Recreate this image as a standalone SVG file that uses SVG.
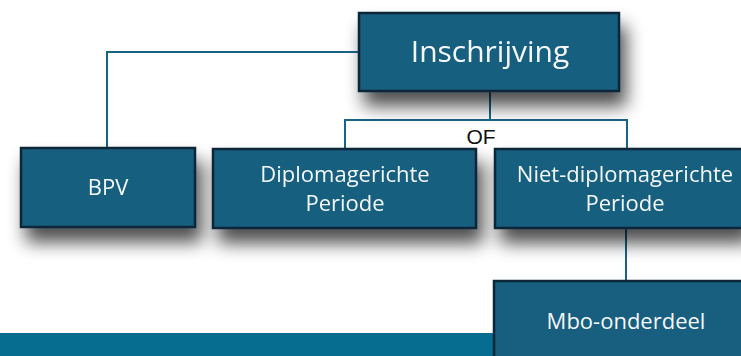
<svg xmlns="http://www.w3.org/2000/svg" width="741" height="356" viewBox="0 0 741 356">
  <defs>
    <filter id="sh" x="-20%" y="-30%" width="150%" height="190%">
      <feGaussianBlur in="SourceAlpha" stdDeviation="9"/>
      <feOffset dx="6" dy="14" result="b"/>
      <feComponentTransfer><feFuncA type="linear" slope="0.7"/></feComponentTransfer>
      <feMerge><feMergeNode/><feMergeNode in="SourceGraphic"/></feMerge>
    </filter>
    <style>
      .box{fill:#175e7f;stroke:#0b2738;stroke-width:2.5}
      .t{fill:#f4f7f9;font-family:"Open Sans","Noto Sans",sans-serif;font-size:22px;text-anchor:middle}
      .c{fill:none;stroke:#1b6384;stroke-width:2}
    </style>
  </defs>
  <rect width="741" height="356" fill="#ffffff"/>
  <rect x="0" y="333" width="741" height="23" fill="#066c90"/>
  <g id="connectors">
    <polyline class="c" points="359,52 107,52 107,148"/>
    <polyline class="c" points="490,91 490,120"/>
    <polyline class="c" points="345,149 345,120 627,120 627,149"/>
    <polyline class="c" points="626,228 626,281"/>
  </g>
  <g id="n-of">
    <text x="481" y="144" font-family="'Liberation Sans',Arial,sans-serif" font-size="21" fill="#111" text-anchor="middle">OF</text>
  </g>
  <g id="n-inschrijving" filter="url(#sh)">
    <rect class="box" x="359" y="13" width="260" height="78"/>
    <text class="t" x="490" y="62" style="font-size:30px">Inschrijving</text>
  </g>
  <g id="n-bpv" filter="url(#sh)">
    <rect class="box" x="21" y="148" width="174" height="79"/>
    <text class="t" x="108" y="195">BPV</text>
  </g>
  <g id="n-diplomagerichte" filter="url(#sh)">
    <rect class="box" x="213" y="149" width="263" height="79"/>
    <text class="t" x="345" y="182">Diplomagerichte</text>
    <text class="t" x="345" y="211">Periode</text>
  </g>
  <g id="n-niet-diplomagerichte" filter="url(#sh)">
    <rect class="box" x="495" y="149" width="250" height="79"/>
    <text class="t" x="625" y="182">Niet-diplomagerichte</text>
    <text class="t" x="625" y="211">Periode</text>
  </g>
  <g id="n-mbo-onderdeel">
    <rect class="box" x="494" y="281" width="255" height="80"/>
    <text class="t" x="626" y="329">Mbo-onderdeel</text>
  </g>
</svg>
